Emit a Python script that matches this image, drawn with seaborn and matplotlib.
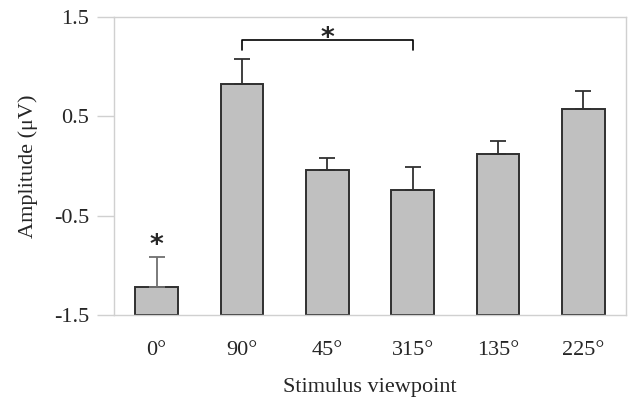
import matplotlib
matplotlib.use("Agg")
import matplotlib.pyplot as plt
import seaborn as sns
import pandas as pd
import numpy as np

categories = ["0°", "90°", "45°", "315°", "135°", "225°"]
amplitude = [-1.22, 0.83, -0.04, -0.24, 0.12, 0.57]
error_up = [0.30, 0.25, 0.12, 0.23, 0.13, 0.18]
yticks = [-1.5, -0.5, 0.5, 1.5]
baseline = -1.5

sns.set_theme(style="white")
plt.rcParams["font.family"] = ["Liberation Serif", "DejaVu Serif"]

df = pd.DataFrame({"viewpoint": categories, "amp": amplitude})

fig = plt.figure(figsize=(6.29, 4.01), dpi=100)
ax = fig.add_axes([0.1812, 0.2145, 0.8140, 0.7431])

sns.barplot(data=df, x="viewpoint", y="amp", order=categories, color="#c0c0c0",
            width=0.5, edgecolor="#303030", linewidth=1.4, errorbar=None,
            saturation=1, ax=ax)

# bars rise from the axis floor (-1.5)
for p, v in zip(ax.patches, amplitude):
    p.set_y(baseline)
    p.set_height(v - baseline)

xs = np.arange(len(categories))
for i, (v, e) in enumerate(zip(amplitude, error_up)):
    col = "#707070" if i == 0 else "#303030"
    ax.errorbar(xs[i], v, yerr=[[0], [e]], fmt="none", ecolor=col,
                elinewidth=1.3, capsize=6, capthick=1.3, zorder=3)

ax.set_ylim(-1.5, 1.5)
ax.set_xlim(-0.5, 5.5)
ax.set_yticks(yticks)
ax.set_yticklabels([f"{t:g}" for t in yticks], fontsize=16)
ax.set_xticks(xs)
ax.set_xticklabels(categories, fontsize=16)
ax.set_xticks(np.arange(-0.5, 6.0, 1.0), minor=True)
ax.tick_params(axis="x", which="major", length=0, pad=19)
ax.tick_params(axis="x", which="minor", length=12, width=1, color="#d0d0d0", direction="out")
ax.tick_params(axis="y", which="major", length=12, width=1, color="#d0d0d0", direction="out", pad=6, left=True)

for s in ax.spines.values():
    s.set_visible(True)
    s.set_color("#d0d0d0")
    s.set_linewidth(1.0)

ax.set_xlabel("Stimulus viewpoint", fontsize=16, labelpad=13)
ax.set_ylabel("Amplitude (μV)", fontsize=16, labelpad=11)

# significance bracket 90° vs 315°
ytop = 1.265
ax.plot([1, 1, 3, 3], [ytop - 0.1, ytop, ytop, ytop - 0.1], color="black", lw=1.2, clip_on=False)
ax.text(2.0, ytop - 0.115, "*", ha="center", va="bottom", fontsize=19, fontweight="bold",
        family="DejaVu Sans")
ax.text(0, amplitude[0] + error_up[0] - 0.02, "*", ha="center", va="bottom", fontsize=19,
        fontweight="bold", family="DejaVu Sans")

fig.savefig("out.png", dpi=100)
